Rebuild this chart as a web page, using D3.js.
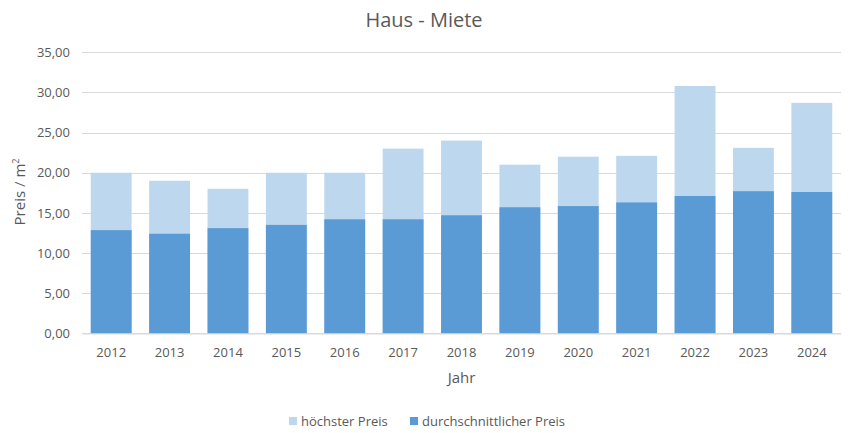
<!DOCTYPE html>
<html><head><meta charset="utf-8">
<script src="https://cdn.jsdelivr.net/npm/d3@7"></script>
<style>
body{margin:0;background:#fff;}
text{font-family:"Open Sans","Noto Sans",sans-serif;fill:#595959;}
</style></head>
<body><svg id="c" width="850" height="433"></svg>
<script>
const years = ["2012","2013","2014","2015","2016","2017","2018","2019","2020","2021","2022","2023","2024"];
const maxPrice = [20.0,19.0,18.0,20.0,20.0,23.0,24.0,21.0,22.0,22.1,30.8,23.1,28.7];
const avgPrice = [12.85,12.4,13.1,13.5,14.2,14.2,14.7,15.7,15.85,16.3,17.1,17.7,17.6];
const yTicks = [0,5,10,15,20,25,30,35];
const seriesNames = ["höchster Preis","durchschnittlicher Preis"];
const colors = ["#bdd7ee","#5b9bd5"];

const svg = d3.select("#c");
const m = {l:82, r:9};
const W = 850;
const x = d3.scaleBand().domain(years).range([m.l, W-m.r]).paddingInner(0.3).paddingOuter(0.15);
const y = d3.scaleLinear().domain([0,35]).range([333.3, 52.3]);

const fmt = v => d3.format(".2f")(v).replace(".", ",");

// grid
svg.append("g").selectAll("line").data(yTicks).join("line")
  .attr("x1", m.l).attr("x2", W-m.r)
  .attr("y1", d=>Math.round(y(d))+0.5).attr("y2", d=>Math.round(y(d))+0.5)
  .attr("stroke","#d9d9d9").attr("stroke-width",1);

// y axis labels
const ya = svg.append("g").attr("transform",`translate(70,0)`)
  .call(d3.axisLeft(y).tickValues(yTicks).tickFormat(fmt).tickSize(0).tickPadding(0));
ya.select(".domain").remove();
ya.selectAll("text").attr("font-size",13).style("fill","#595959").attr("font-family",null);

// bars
svg.append("g").selectAll("rect").data(years).join("rect")
  .attr("x", d=>x(d)).attr("width", x.bandwidth())
  .attr("y", (d,i)=>y(maxPrice[i])).attr("height",(d,i)=>y(0)-y(maxPrice[i]))
  .attr("fill", colors[0]);
svg.append("g").selectAll("rect").data(years).join("rect")
  .attr("x", d=>x(d)).attr("width", x.bandwidth())
  .attr("y", (d,i)=>y(avgPrice[i])).attr("height",(d,i)=>y(0)-y(avgPrice[i]))
  .attr("fill", colors[1]);

// x axis
const xa = svg.append("g").attr("transform",`translate(0,${Math.round(y(0))+0.5})`)
  .call(d3.axisBottom(x).tickSize(0).tickPadding(14));
xa.select(".domain").attr("stroke","#d9d9d9");
xa.selectAll("text").attr("font-size",13).style("fill","#595959").attr("font-family",null);

// title
svg.append("text").attr("x",424).attr("y",27).attr("text-anchor","middle")
  .attr("font-size",20).text("Haus - Miete");
// axis titles
svg.append("text").attr("x",(m.l+W-m.r)/2).attr("y",383).attr("text-anchor","middle")
  .attr("font-size",15).text("Jahr");
const yt = svg.append("text").attr("transform","translate(25,192) rotate(-90)")
  .attr("text-anchor","middle").attr("font-size",15);
yt.append("tspan").text("Preis / m");
yt.append("tspan").attr("font-size",9).attr("dy",-6).text("2");

// legend
const lx = [289, 410];
const lg = svg.append("g").selectAll("g").data(seriesNames).join("g")
  .attr("transform",(d,i)=>`translate(${lx[i]},417)`);
lg.append("rect").attr("width",8).attr("height",8).attr("fill",(d,i)=>colors[i]);
lg.append("text").attr("x",12).attr("y",9).attr("font-size",13).text(d=>d);
</script></body></html>
